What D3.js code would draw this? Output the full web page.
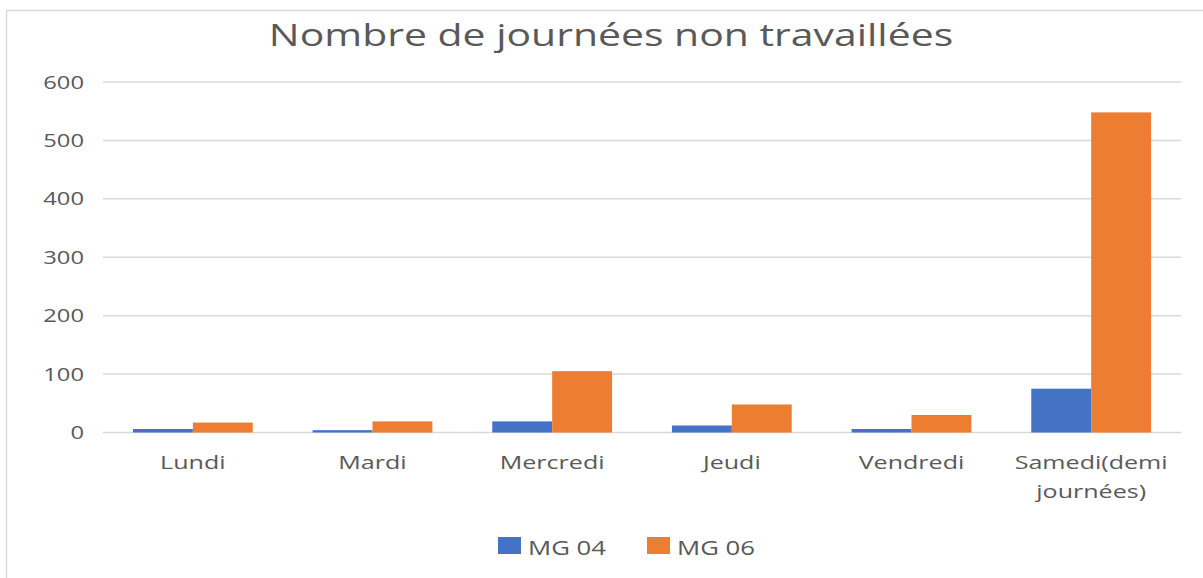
<!DOCTYPE html>
<html>
<head>
<meta charset="utf-8">
<script src="https://cdn.jsdelivr.net/npm/d3@7"></script>
<style>
  body { margin: 0; background: #fff; }
  text { font-family: "Open Sans", sans-serif; fill: #595959; }
</style>
</head>
<body>
<svg id="chart" width="1203" height="578"></svg>
<script>
// data
const categories = ["Lundi", "Mardi", "Mercredi", "Jeudi", "Vendredi", "Samedi(demi journées)"]
const seriesNames = ["MG 04", "MG 06"]
const mg04 = [6, 4, 19, 12, 6, 75]
const mg06 = [17, 19, 105, 48, 30, 548]
const yTicks = [0, 100, 200, 300, 400, 500, 600]
const colors = ["#4472C4", "#ED7D31"]

// text in the picture is stretched sideways
const SX = 1.32

const svg = d3.select("#chart")
const margin = {left: 103, right: 1203 - 1181, top: 82, bottom: 578 - 432.5}
const width = 1203, height = 578

// chart frame
svg.append("rect")
  .attr("x", 6.5).attr("y", 10.5)
  .attr("width", 1300).attr("height", 700)
  .attr("fill", "none").attr("stroke", "#D9D9D9").attr("stroke-width", 1.5)

function stretchedText(g, x, y, str, size, anchor) {
  return g.append("text")
    .attr("transform", `translate(${x},${y}) scale(${SX},1)`)
    .attr("font-size", size)
    .attr("text-anchor", anchor)
    .text(str)
}

const x = d3.scaleBand()
  .domain(categories)
  .range([margin.left, width - margin.right])
  .paddingInner(1 / 3).paddingOuter(1 / 6)

const x1 = d3.scaleBand()
  .domain(seriesNames)
  .range([0, x.bandwidth()])

const y = d3.scaleLinear()
  .domain([0, 600])
  .range([height - margin.bottom, margin.top])

// gridlines
svg.append("g")
  .selectAll("line")
  .data(yTicks)
  .join("line")
    .attr("x1", margin.left).attr("x2", width - margin.right)
    .attr("y1", d => y(d)).attr("y2", d => y(d))
    .attr("stroke", "#D9D9D9").attr("stroke-width", 1.5)

// y tick labels
const yl = svg.append("g")
yTicks.forEach(t => stretchedText(yl, 84, y(t) + 6.5, t, 18, "end"))

// bars
const rows = categories.map((c, i) => ({cat: c, values: [mg04[i], mg06[i]]}))
svg.append("g")
  .selectAll("g")
  .data(rows)
  .join("g")
    .attr("transform", d => `translate(${x(d.cat)},0)`)
  .selectAll("rect")
  .data(d => d.values.map((v, j) => ({name: seriesNames[j], v, j})))
  .join("rect")
    .attr("x", d => x1(d.name))
    .attr("width", x1.bandwidth())
    .attr("y", d => y(d.v))
    .attr("height", d => y(0) - y(d.v))
    .attr("fill", d => colors[d.j])

// category labels, wrapped like the original
const xl = svg.append("g")
categories.forEach(c => {
  const cx = x(c) + x.bandwidth() / 2
  const lines = c.startsWith("Samedi") ? ["Samedi(demi", "journées)"] : [c]
  lines.forEach((l, k) => stretchedText(xl, cx, 469 + k * 28.5, l, 19, "middle"))
})

// title
stretchedText(svg, 611, 46, "Nombre de journées non travaillées", 31, "middle")

// legend
const legend = svg.append("g")
const legendX = [498, 647]
seriesNames.forEach((s, i) => {
  legend.append("rect")
    .attr("x", legendX[i]).attr("y", 537)
    .attr("width", 23).attr("height", 17)
    .attr("fill", colors[i])
  stretchedText(legend, legendX[i] + 30, 555, s, 19.5, "start")
})
</script>
</body>
</html>
